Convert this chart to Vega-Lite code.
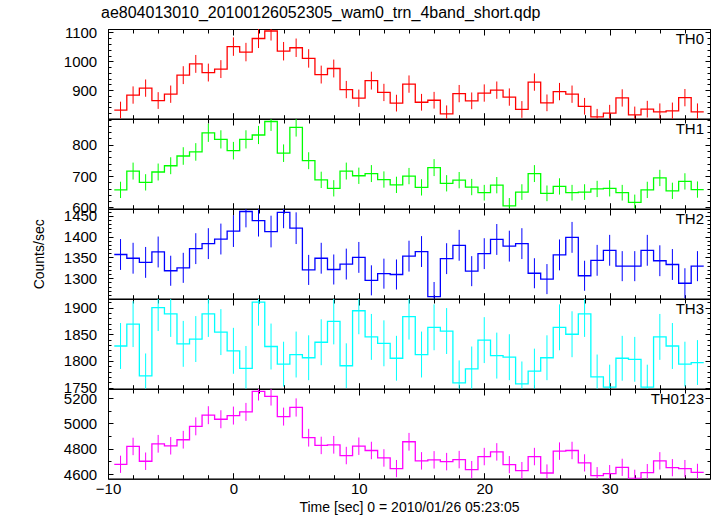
{
  "$schema": "https://vega.github.io/schema/vega-lite/v6.json",
  "autosize": {"type": "pad"},
  "padding": {"left": 32, "top": 4, "right": 5, "bottom": 0},
  "background": "white",
  "title": {"text": "ae804013010_20100126052305_wam0_trn_4band_short.qdp", "anchor": "start", "frame": "group", "fontSize": 16, "font": "Liberation Sans", "fontWeight": "normal", "color": "black", "offset": 4, "dx": -7},
  "config": {
    "view": {"stroke": "black", "strokeWidth": 1},
    "axis": {"domainColor": "black", "tickColor": "black", "labelColor": "black", "titleColor": "black", "labelFont": "Liberation Sans", "titleFont": "Liberation Sans", "labelFontSize": 15, "titleFontSize": 14, "titleFontWeight": "normal", "grid": false, "domainWidth": 1, "tickWidth": 1, "labelFlush": false, "labelOverlap": false, "format": "d"}
  },
  "data": {"values": [
    {"t": -9, "r0": 831, "e0": 29, "r1": 656, "e1": 26, "r2": 1357, "e2": 37, "r3": 1828, "e3": 43, "r4": 4677, "e4": 68},
    {"t": -8, "r0": 883, "e0": 30, "r1": 716, "e1": 27, "r2": 1348, "e2": 37, "r3": 1869, "e3": 43, "r4": 4818, "e4": 69},
    {"t": -7, "r0": 907, "e0": 30, "r1": 680, "e1": 26, "r2": 1338, "e2": 37, "r3": 1772, "e3": 42, "r4": 4701, "e4": 69},
    {"t": -6, "r0": 864, "e0": 29, "r1": 713, "e1": 27, "r2": 1363, "e2": 37, "r3": 1900, "e3": 44, "r4": 4839, "e4": 70},
    {"t": -5, "r0": 886, "e0": 30, "r1": 733, "e1": 27, "r2": 1318, "e2": 36, "r3": 1888, "e3": 43, "r4": 4823, "e4": 69},
    {"t": -4, "r0": 952, "e0": 31, "r1": 764, "e1": 28, "r2": 1325, "e2": 36, "r3": 1832, "e3": 43, "r4": 4871, "e4": 70},
    {"t": -3, "r0": 991, "e0": 31, "r1": 777, "e1": 28, "r2": 1371, "e2": 37, "r3": 1841, "e3": 43, "r4": 4977, "e4": 71},
    {"t": -2, "r0": 961, "e0": 31, "r1": 838, "e1": 29, "r2": 1383, "e2": 37, "r3": 1888, "e3": 43, "r4": 5065, "e4": 71},
    {"t": -1, "r0": 973, "e0": 31, "r1": 817, "e1": 29, "r2": 1394, "e2": 37, "r3": 1854, "e3": 43, "r4": 5033, "e4": 71},
    {"t": 0, "r0": 1051, "e0": 32, "r1": 781, "e1": 28, "r2": 1413, "e2": 38, "r3": 1819, "e3": 43, "r4": 5062, "e4": 71},
    {"t": 1, "r0": 1032, "e0": 32, "r1": 817, "e1": 29, "r2": 1460, "e2": 38, "r3": 1786, "e3": 42, "r4": 5091, "e4": 71},
    {"t": 2, "r0": 1079, "e0": 33, "r1": 831, "e1": 29, "r2": 1438, "e2": 38, "r3": 1910, "e3": 44, "r4": 5253, "e4": 72},
    {"t": 3, "r0": 1105, "e0": 33, "r1": 874, "e1": 30, "r2": 1412, "e2": 38, "r3": 1827, "e3": 43, "r4": 5213, "e4": 72},
    {"t": 4, "r0": 1035, "e0": 32, "r1": 773, "e1": 28, "r2": 1458, "e2": 38, "r3": 1794, "e3": 42, "r4": 5054, "e4": 71},
    {"t": 5, "r0": 1047, "e0": 32, "r1": 855, "e1": 29, "r2": 1420, "e2": 38, "r3": 1812, "e3": 43, "r4": 5126, "e4": 72},
    {"t": 6, "r0": 1010, "e0": 32, "r1": 749, "e1": 27, "r2": 1320, "e2": 36, "r3": 1806, "e3": 42, "r4": 4887, "e4": 70},
    {"t": 7, "r0": 954, "e0": 31, "r1": 688, "e1": 26, "r2": 1348, "e2": 37, "r3": 1835, "e3": 43, "r4": 4826, "e4": 69},
    {"t": 8, "r0": 975, "e0": 31, "r1": 661, "e1": 26, "r2": 1321, "e2": 36, "r3": 1874, "e3": 43, "r4": 4831, "e4": 70},
    {"t": 9, "r0": 902, "e0": 30, "r1": 716, "e1": 27, "r2": 1334, "e2": 37, "r3": 1791, "e3": 42, "r4": 4746, "e4": 69},
    {"t": 10, "r0": 872, "e0": 30, "r1": 701, "e1": 26, "r2": 1350, "e2": 37, "r3": 1894, "e3": 44, "r4": 4820, "e4": 69},
    {"t": 11, "r0": 933, "e0": 31, "r1": 708, "e1": 27, "r2": 1295, "e2": 36, "r3": 1845, "e3": 43, "r4": 4786, "e4": 69},
    {"t": 12, "r0": 892, "e0": 30, "r1": 689, "e1": 26, "r2": 1311, "e2": 36, "r3": 1833, "e3": 43, "r4": 4727, "e4": 69},
    {"t": 13, "r0": 855, "e0": 29, "r1": 672, "e1": 26, "r2": 1309, "e2": 36, "r3": 1805, "e3": 42, "r4": 4643, "e4": 68},
    {"t": 14, "r0": 921, "e0": 30, "r1": 700, "e1": 26, "r2": 1353, "e2": 37, "r3": 1883, "e3": 43, "r4": 4855, "e4": 70},
    {"t": 15, "r0": 858, "e0": 29, "r1": 664, "e1": 26, "r2": 1364, "e2": 37, "r3": 1812, "e3": 43, "r4": 4704, "e4": 69},
    {"t": 16, "r0": 865, "e0": 29, "r1": 727, "e1": 27, "r2": 1256, "e2": 35, "r3": 1863, "e3": 43, "r4": 4712, "e4": 69},
    {"t": 17, "r0": 818, "e0": 29, "r1": 677, "e1": 26, "r2": 1347, "e2": 37, "r3": 1856, "e3": 43, "r4": 4698, "e4": 69},
    {"t": 18, "r0": 888, "e0": 30, "r1": 687, "e1": 26, "r2": 1379, "e2": 37, "r3": 1759, "e3": 42, "r4": 4714, "e4": 69},
    {"t": 19, "r0": 863, "e0": 29, "r1": 665, "e1": 26, "r2": 1317, "e2": 36, "r3": 1785, "e3": 42, "r4": 4635, "e4": 68},
    {"t": 20, "r0": 890, "e0": 30, "r1": 647, "e1": 25, "r2": 1359, "e2": 37, "r3": 1839, "e3": 43, "r4": 4738, "e4": 69},
    {"t": 21, "r0": 900, "e0": 30, "r1": 671, "e1": 26, "r2": 1393, "e2": 37, "r3": 1810, "e3": 43, "r4": 4775, "e4": 69},
    {"t": 22, "r0": 876, "e0": 30, "r1": 605, "e1": 25, "r2": 1377, "e2": 37, "r3": 1807, "e3": 43, "r4": 4674, "e4": 68},
    {"t": 23, "r0": 833, "e0": 29, "r1": 649, "e1": 25, "r2": 1383, "e2": 37, "r3": 1757, "e3": 42, "r4": 4627, "e4": 68},
    {"t": 24, "r0": 928, "e0": 30, "r1": 708, "e1": 27, "r2": 1312, "e2": 36, "r3": 1781, "e3": 42, "r4": 4738, "e4": 69},
    {"t": 25, "r0": 856, "e0": 29, "r1": 645, "e1": 25, "r2": 1298, "e2": 36, "r3": 1806, "e3": 42, "r4": 4608, "e4": 68},
    {"t": 26, "r0": 895, "e0": 30, "r1": 667, "e1": 26, "r2": 1356, "e2": 37, "r3": 1863, "e3": 43, "r4": 4781, "e4": 69},
    {"t": 27, "r0": 886, "e0": 30, "r1": 647, "e1": 25, "r2": 1398, "e2": 37, "r3": 1850, "e3": 43, "r4": 4786, "e4": 69},
    {"t": 28, "r0": 844, "e0": 29, "r1": 649, "e1": 25, "r2": 1306, "e2": 36, "r3": 1888, "e3": 43, "r4": 4688, "e4": 68},
    {"t": 29, "r0": 807, "e0": 28, "r1": 659, "e1": 26, "r2": 1343, "e2": 37, "r3": 1770, "e3": 42, "r4": 4587, "e4": 68},
    {"t": 30, "r0": 820, "e0": 29, "r1": 661, "e1": 26, "r2": 1367, "e2": 37, "r3": 1751, "e3": 42, "r4": 4603, "e4": 68},
    {"t": 31, "r0": 873, "e0": 30, "r1": 647, "e1": 25, "r2": 1329, "e2": 36, "r3": 1805, "e3": 42, "r4": 4653, "e4": 68},
    {"t": 32, "r0": 814, "e0": 29, "r1": 616, "e1": 25, "r2": 1329, "e2": 36, "r3": 1803, "e3": 42, "r4": 4566, "e4": 68},
    {"t": 33, "r0": 834, "e0": 29, "r1": 656, "e1": 26, "r2": 1367, "e2": 37, "r3": 1751, "e3": 42, "r4": 4611, "e4": 68},
    {"t": 34, "r0": 825, "e0": 29, "r1": 694, "e1": 26, "r2": 1342, "e2": 37, "r3": 1845, "e3": 43, "r4": 4704, "e4": 69},
    {"t": 35, "r0": 828, "e0": 29, "r1": 653, "e1": 26, "r2": 1333, "e2": 37, "r3": 1828, "e3": 43, "r4": 4650, "e4": 68},
    {"t": 36, "r0": 874, "e0": 30, "r1": 683, "e1": 26, "r2": 1288, "e2": 36, "r3": 1794, "e3": 42, "r4": 4643, "e4": 68},
    {"t": 37, "r0": 825, "e0": 29, "r1": 657, "e1": 26, "r2": 1329, "e2": 36, "r3": 1797, "e3": 42, "r4": 4613, "e4": 68}
  ]},
  "spacing": 0,
  "bounds": "flush",
  "vconcat": [
    {
      "width": 602, "height": 89.7,
      "resolve": {"axis": {"x": "independent", "y": "independent"}},
      "layer": [
        {
          "transform": [{"bin": {"step": 1, "extent": [-9.5, 37.5], "nice": false}, "field": "t", "as": ["t0", "t1"]}, {"fold": ["t0", "t1"], "as": ["edge", "tx"]}],
          "mark": {"type": "line", "color": "#ff0000", "strokeWidth": 1.3, "clip": true},
          "encoding": {
            "x": {"field": "tx", "type": "quantitative", "scale": {"domain": [-10, 38], "nice": false}, "axis": {"orient": "bottom", "values": [-10, 0, 10, 20, 30], "tickSize": -6, "labels": false, "title": null}},
            "y": {"field": "r0", "type": "quantitative", "scale": {"domain": [801, 1112], "nice": false, "zero": false}, "axis": {"orient": "left", "values": [900, 1000, 1100], "tickSize": -5, "labelPadding": 16.3, "title": null}},
            "order": [{"field": "t", "type": "quantitative"}, {"field": "edge", "type": "ordinal"}]
          }
        },
        {
          "mark": {"type": "errorbar", "color": "#ff0000", "thickness": 1, "clip": true},
          "encoding": {
            "x": {"field": "t", "type": "quantitative", "scale": {"domain": [-10, 38], "nice": false}, "axis": null},
            "y": {"field": "r0", "type": "quantitative", "scale": {"domain": [801, 1112], "nice": false, "zero": false}, "axis": null},
            "yError": {"field": "e0"}
          }
        },
        {
          "data": {"values": [{"lab": "TH0"}]},
          "mark": {"type": "text", "align": "right", "baseline": "top", "dx": -6, "dy": 3, "fontSize": 15, "font": "Liberation Sans", "color": "black"},
          "encoding": {
            "x": {"datum": 38, "type": "quantitative", "scale": {"domain": [-10, 38], "nice": false}, "axis": {"orient": "top", "values": [-10, 0, 10, 20, 30], "tickSize": -6, "labels": false, "title": null}},
            "y": {"datum": 1112, "type": "quantitative", "scale": {"domain": [801, 1112], "nice": false, "zero": false}, "axis": {"orient": "right", "values": [900, 1000, 1100], "tickSize": -5, "labels": false, "title": null}},
            "text": {"field": "lab"}
          }
        },
        {
          "mark": {"type": "point", "opacity": 0},
          "encoding": {
            "x": {"field": "t", "type": "quantitative", "scale": {"domain": [-10, 38], "nice": false}, "axis": {"orient": "bottom", "values": [-8, -6, -4, -2, 2, 4, 6, 8, 12, 14, 16, 18, 22, 24, 26, 28, 32, 34, 36, 38], "tickSize": -4, "labels": false, "domain": false, "title": null}},
            "y": {"field": "r0", "type": "quantitative", "scale": {"domain": [801, 1112], "nice": false, "zero": false}, "axis": {"orient": "left", "values": [820, 840, 860, 880, 920, 940, 960, 980, 1020, 1040, 1060, 1080], "tickSize": -3, "labels": false, "domain": false, "title": null}}
          }
        },
        {
          "mark": {"type": "point", "opacity": 0},
          "encoding": {
            "x": {"field": "t", "type": "quantitative", "scale": {"domain": [-10, 38], "nice": false}, "axis": {"orient": "top", "values": [-8, -6, -4, -2, 2, 4, 6, 8, 12, 14, 16, 18, 22, 24, 26, 28, 32, 34, 36, 38], "tickSize": -4, "labels": false, "domain": false, "title": null}},
            "y": {"field": "r0", "type": "quantitative", "scale": {"domain": [801, 1112], "nice": false, "zero": false}, "axis": {"orient": "right", "values": [820, 840, 860, 880, 920, 940, 960, 980, 1020, 1040, 1060, 1080], "tickSize": -3, "labels": false, "domain": false, "title": null}}
          }
        }
      ]
    },
    {
      "width": 602, "height": 89.7,
      "resolve": {"axis": {"x": "independent", "y": "independent"}},
      "layer": [
        {
          "transform": [{"bin": {"step": 1, "extent": [-9.5, 37.5], "nice": false}, "field": "t", "as": ["t0", "t1"]}, {"fold": ["t0", "t1"], "as": ["edge", "tx"]}],
          "mark": {"type": "line", "color": "#00ff00", "strokeWidth": 1.3, "clip": true},
          "encoding": {
            "x": {"field": "tx", "type": "quantitative", "scale": {"domain": [-10, 38], "nice": false}, "axis": {"orient": "bottom", "values": [-10, 0, 10, 20, 30], "tickSize": -6, "labels": false, "title": null}},
            "y": {"field": "r1", "type": "quantitative", "scale": {"domain": [596, 882], "nice": false, "zero": false}, "axis": {"orient": "left", "values": [600, 700, 800], "tickSize": -5, "labelPadding": 16.3, "title": null}},
            "order": [{"field": "t", "type": "quantitative"}, {"field": "edge", "type": "ordinal"}]
          }
        },
        {
          "mark": {"type": "errorbar", "color": "#00ff00", "thickness": 1, "clip": true},
          "encoding": {
            "x": {"field": "t", "type": "quantitative", "scale": {"domain": [-10, 38], "nice": false}, "axis": null},
            "y": {"field": "r1", "type": "quantitative", "scale": {"domain": [596, 882], "nice": false, "zero": false}, "axis": null},
            "yError": {"field": "e1"}
          }
        },
        {
          "data": {"values": [{"lab": "TH1"}]},
          "mark": {"type": "text", "align": "right", "baseline": "top", "dx": -6, "dy": 3, "fontSize": 15, "font": "Liberation Sans", "color": "black"},
          "encoding": {
            "x": {"datum": 38, "type": "quantitative", "scale": {"domain": [-10, 38], "nice": false}, "axis": {"orient": "top", "values": [-10, 0, 10, 20, 30], "tickSize": -6, "labels": false, "title": null}},
            "y": {"datum": 882, "type": "quantitative", "scale": {"domain": [596, 882], "nice": false, "zero": false}, "axis": {"orient": "right", "values": [600, 700, 800], "tickSize": -5, "labels": false, "title": null}},
            "text": {"field": "lab"}
          }
        },
        {
          "mark": {"type": "point", "opacity": 0},
          "encoding": {
            "x": {"field": "t", "type": "quantitative", "scale": {"domain": [-10, 38], "nice": false}, "axis": {"orient": "bottom", "values": [-8, -6, -4, -2, 2, 4, 6, 8, 12, 14, 16, 18, 22, 24, 26, 28, 32, 34, 36, 38], "tickSize": -4, "labels": false, "domain": false, "title": null}},
            "y": {"field": "r1", "type": "quantitative", "scale": {"domain": [596, 882], "nice": false, "zero": false}, "axis": {"orient": "left", "values": [620, 640, 660, 680, 720, 740, 760, 780, 820, 840, 860, 880], "tickSize": -3, "labels": false, "domain": false, "title": null}}
          }
        },
        {
          "mark": {"type": "point", "opacity": 0},
          "encoding": {
            "x": {"field": "t", "type": "quantitative", "scale": {"domain": [-10, 38], "nice": false}, "axis": {"orient": "top", "values": [-8, -6, -4, -2, 2, 4, 6, 8, 12, 14, 16, 18, 22, 24, 26, 28, 32, 34, 36, 38], "tickSize": -4, "labels": false, "domain": false, "title": null}},
            "y": {"field": "r1", "type": "quantitative", "scale": {"domain": [596, 882], "nice": false, "zero": false}, "axis": {"orient": "right", "values": [620, 640, 660, 680, 720, 740, 760, 780, 820, 840, 860, 880], "tickSize": -3, "labels": false, "domain": false, "title": null}}
          }
        }
      ]
    },
    {
      "width": 602, "height": 89.7,
      "resolve": {"axis": {"x": "independent", "y": "independent"}},
      "layer": [
        {
          "transform": [{"bin": {"step": 1, "extent": [-9.5, 37.5], "nice": false}, "field": "t", "as": ["t0", "t1"]}, {"fold": ["t0", "t1"], "as": ["edge", "tx"]}],
          "mark": {"type": "line", "color": "#0000ff", "strokeWidth": 1.3, "clip": true},
          "encoding": {
            "x": {"field": "tx", "type": "quantitative", "scale": {"domain": [-10, 38], "nice": false}, "axis": {"orient": "bottom", "values": [-10, 0, 10, 20, 30], "tickSize": -6, "labels": false, "title": null}},
            "y": {"field": "r2", "type": "quantitative", "scale": {"domain": [1251, 1466], "nice": false, "zero": false}, "axis": {"orient": "left", "values": [1300, 1350, 1400, 1450], "tickSize": -5, "labelPadding": 16.3, "title": "Counts/sec", "titlePadding": 16.7}},
            "order": [{"field": "t", "type": "quantitative"}, {"field": "edge", "type": "ordinal"}]
          }
        },
        {
          "mark": {"type": "errorbar", "color": "#0000ff", "thickness": 1, "clip": true},
          "encoding": {
            "x": {"field": "t", "type": "quantitative", "scale": {"domain": [-10, 38], "nice": false}, "axis": null},
            "y": {"field": "r2", "type": "quantitative", "scale": {"domain": [1251, 1466], "nice": false, "zero": false}, "axis": null},
            "yError": {"field": "e2"}
          }
        },
        {
          "data": {"values": [{"lab": "TH2"}]},
          "mark": {"type": "text", "align": "right", "baseline": "top", "dx": -6, "dy": 3, "fontSize": 15, "font": "Liberation Sans", "color": "black"},
          "encoding": {
            "x": {"datum": 38, "type": "quantitative", "scale": {"domain": [-10, 38], "nice": false}, "axis": {"orient": "top", "values": [-10, 0, 10, 20, 30], "tickSize": -6, "labels": false, "title": null}},
            "y": {"datum": 1466, "type": "quantitative", "scale": {"domain": [1251, 1466], "nice": false, "zero": false}, "axis": {"orient": "right", "values": [1300, 1350, 1400, 1450], "tickSize": -5, "labels": false, "title": null}},
            "text": {"field": "lab"}
          }
        },
        {
          "mark": {"type": "point", "opacity": 0},
          "encoding": {
            "x": {"field": "t", "type": "quantitative", "scale": {"domain": [-10, 38], "nice": false}, "axis": {"orient": "bottom", "values": [-8, -6, -4, -2, 2, 4, 6, 8, 12, 14, 16, 18, 22, 24, 26, 28, 32, 34, 36, 38], "tickSize": -4, "labels": false, "domain": false, "title": null}},
            "y": {"field": "r2", "type": "quantitative", "scale": {"domain": [1251, 1466], "nice": false, "zero": false}, "axis": {"orient": "left", "values": [1260, 1270, 1280, 1290, 1310, 1320, 1330, 1340, 1360, 1370, 1380, 1390, 1410, 1420, 1430, 1440, 1460], "tickSize": -3, "labels": false, "domain": false, "title": null}}
          }
        },
        {
          "mark": {"type": "point", "opacity": 0},
          "encoding": {
            "x": {"field": "t", "type": "quantitative", "scale": {"domain": [-10, 38], "nice": false}, "axis": {"orient": "top", "values": [-8, -6, -4, -2, 2, 4, 6, 8, 12, 14, 16, 18, 22, 24, 26, 28, 32, 34, 36, 38], "tickSize": -4, "labels": false, "domain": false, "title": null}},
            "y": {"field": "r2", "type": "quantitative", "scale": {"domain": [1251, 1466], "nice": false, "zero": false}, "axis": {"orient": "right", "values": [1260, 1270, 1280, 1290, 1310, 1320, 1330, 1340, 1360, 1370, 1380, 1390, 1410, 1420, 1430, 1440, 1460], "tickSize": -3, "labels": false, "domain": false, "title": null}}
          }
        }
      ]
    },
    {
      "width": 602, "height": 89.7,
      "resolve": {"axis": {"x": "independent", "y": "independent"}},
      "layer": [
        {
          "transform": [{"bin": {"step": 1, "extent": [-9.5, 37.5], "nice": false}, "field": "t", "as": ["t0", "t1"]}, {"fold": ["t0", "t1"], "as": ["edge", "tx"]}],
          "mark": {"type": "line", "color": "#00ffff", "strokeWidth": 1.3, "clip": true},
          "encoding": {
            "x": {"field": "tx", "type": "quantitative", "scale": {"domain": [-10, 38], "nice": false}, "axis": {"orient": "bottom", "values": [-10, 0, 10, 20, 30], "tickSize": -6, "labels": false, "title": null}},
            "y": {"field": "r3", "type": "quantitative", "scale": {"domain": [1748, 1916], "nice": false, "zero": false}, "axis": {"orient": "left", "values": [1750, 1800, 1850, 1900], "tickSize": -5, "labelPadding": 16.3, "title": null}},
            "order": [{"field": "t", "type": "quantitative"}, {"field": "edge", "type": "ordinal"}]
          }
        },
        {
          "mark": {"type": "errorbar", "color": "#00ffff", "thickness": 1, "clip": true},
          "encoding": {
            "x": {"field": "t", "type": "quantitative", "scale": {"domain": [-10, 38], "nice": false}, "axis": null},
            "y": {"field": "r3", "type": "quantitative", "scale": {"domain": [1748, 1916], "nice": false, "zero": false}, "axis": null},
            "yError": {"field": "e3"}
          }
        },
        {
          "data": {"values": [{"lab": "TH3"}]},
          "mark": {"type": "text", "align": "right", "baseline": "top", "dx": -6, "dy": 3, "fontSize": 15, "font": "Liberation Sans", "color": "black"},
          "encoding": {
            "x": {"datum": 38, "type": "quantitative", "scale": {"domain": [-10, 38], "nice": false}, "axis": {"orient": "top", "values": [-10, 0, 10, 20, 30], "tickSize": -6, "labels": false, "title": null}},
            "y": {"datum": 1916, "type": "quantitative", "scale": {"domain": [1748, 1916], "nice": false, "zero": false}, "axis": {"orient": "right", "values": [1750, 1800, 1850, 1900], "tickSize": -5, "labels": false, "title": null}},
            "text": {"field": "lab"}
          }
        },
        {
          "mark": {"type": "point", "opacity": 0},
          "encoding": {
            "x": {"field": "t", "type": "quantitative", "scale": {"domain": [-10, 38], "nice": false}, "axis": {"orient": "bottom", "values": [-8, -6, -4, -2, 2, 4, 6, 8, 12, 14, 16, 18, 22, 24, 26, 28, 32, 34, 36, 38], "tickSize": -4, "labels": false, "domain": false, "title": null}},
            "y": {"field": "r3", "type": "quantitative", "scale": {"domain": [1748, 1916], "nice": false, "zero": false}, "axis": {"orient": "left", "values": [1760, 1770, 1780, 1790, 1810, 1820, 1830, 1840, 1860, 1870, 1880, 1890, 1910], "tickSize": -3, "labels": false, "domain": false, "title": null}}
          }
        },
        {
          "mark": {"type": "point", "opacity": 0},
          "encoding": {
            "x": {"field": "t", "type": "quantitative", "scale": {"domain": [-10, 38], "nice": false}, "axis": {"orient": "top", "values": [-8, -6, -4, -2, 2, 4, 6, 8, 12, 14, 16, 18, 22, 24, 26, 28, 32, 34, 36, 38], "tickSize": -4, "labels": false, "domain": false, "title": null}},
            "y": {"field": "r3", "type": "quantitative", "scale": {"domain": [1748, 1916], "nice": false, "zero": false}, "axis": {"orient": "right", "values": [1760, 1770, 1780, 1790, 1810, 1820, 1830, 1840, 1860, 1870, 1880, 1890, 1910], "tickSize": -3, "labels": false, "domain": false, "title": null}}
          }
        }
      ]
    },
    {
      "width": 602, "height": 89.7,
      "resolve": {"axis": {"x": "independent", "y": "independent"}},
      "layer": [
        {
          "transform": [{"bin": {"step": 1, "extent": [-9.5, 37.5], "nice": false}, "field": "t", "as": ["t0", "t1"]}, {"fold": ["t0", "t1"], "as": ["edge", "tx"]}],
          "mark": {"type": "line", "color": "#ff00ff", "strokeWidth": 1.3, "clip": true},
          "encoding": {
            "x": {"field": "tx", "type": "quantitative", "scale": {"domain": [-10, 38], "nice": false}, "axis": {"orient": "bottom", "values": [-10, 0, 10, 20, 30], "tickSize": -6, "labels": true, "labelPadding": 9.2, "title": "Time [sec] 0 = 2010/01/26 05:23:05", "titlePadding": 3.5}},
            "y": {"field": "r4", "type": "quantitative", "scale": {"domain": [4563, 5272], "nice": false, "zero": false}, "axis": {"orient": "left", "values": [4600, 4800, 5000, 5200], "tickSize": -5, "labelPadding": 16.3, "title": null}},
            "order": [{"field": "t", "type": "quantitative"}, {"field": "edge", "type": "ordinal"}]
          }
        },
        {
          "mark": {"type": "errorbar", "color": "#ff00ff", "thickness": 1, "clip": true},
          "encoding": {
            "x": {"field": "t", "type": "quantitative", "scale": {"domain": [-10, 38], "nice": false}, "axis": null},
            "y": {"field": "r4", "type": "quantitative", "scale": {"domain": [4563, 5272], "nice": false, "zero": false}, "axis": null},
            "yError": {"field": "e4"}
          }
        },
        {
          "data": {"values": [{"lab": "TH0123"}]},
          "mark": {"type": "text", "align": "right", "baseline": "top", "dx": -6, "dy": 3, "fontSize": 15, "font": "Liberation Sans", "color": "black"},
          "encoding": {
            "x": {"datum": 38, "type": "quantitative", "scale": {"domain": [-10, 38], "nice": false}, "axis": {"orient": "top", "values": [-10, 0, 10, 20, 30], "tickSize": -6, "labels": false, "title": null}},
            "y": {"datum": 5272, "type": "quantitative", "scale": {"domain": [4563, 5272], "nice": false, "zero": false}, "axis": {"orient": "right", "values": [4600, 4800, 5000, 5200], "tickSize": -5, "labels": false, "title": null}},
            "text": {"field": "lab"}
          }
        },
        {
          "mark": {"type": "point", "opacity": 0},
          "encoding": {
            "x": {"field": "t", "type": "quantitative", "scale": {"domain": [-10, 38], "nice": false}, "axis": {"orient": "bottom", "values": [-8, -6, -4, -2, 2, 4, 6, 8, 12, 14, 16, 18, 22, 24, 26, 28, 32, 34, 36, 38], "tickSize": -4, "labels": false, "domain": false, "title": null}},
            "y": {"field": "r4", "type": "quantitative", "scale": {"domain": [4563, 5272], "nice": false, "zero": false}, "axis": {"orient": "left", "values": [4700, 4900, 5100], "tickSize": -3, "labels": false, "domain": false, "title": null}}
          }
        },
        {
          "mark": {"type": "point", "opacity": 0},
          "encoding": {
            "x": {"field": "t", "type": "quantitative", "scale": {"domain": [-10, 38], "nice": false}, "axis": {"orient": "top", "values": [-8, -6, -4, -2, 2, 4, 6, 8, 12, 14, 16, 18, 22, 24, 26, 28, 32, 34, 36, 38], "tickSize": -4, "labels": false, "domain": false, "title": null}},
            "y": {"field": "r4", "type": "quantitative", "scale": {"domain": [4563, 5272], "nice": false, "zero": false}, "axis": {"orient": "right", "values": [4700, 4900, 5100], "tickSize": -3, "labels": false, "domain": false, "title": null}}
          }
        }
      ]
    }
  ]
}
